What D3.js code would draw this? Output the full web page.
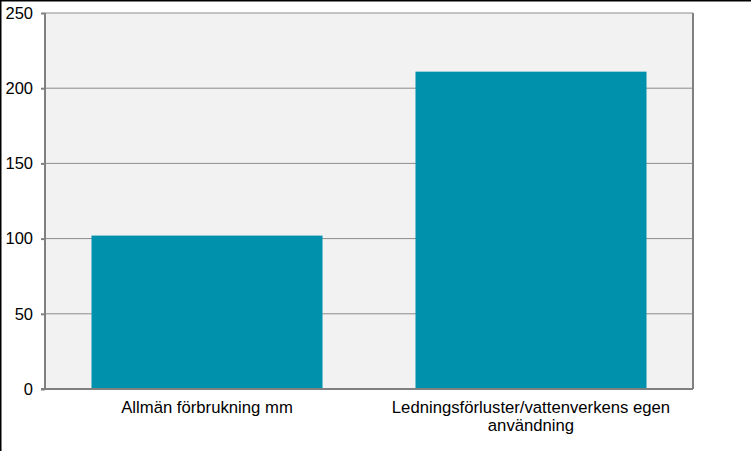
<!DOCTYPE html>
<html>
<head>
<meta charset="utf-8">
<script src="https://cdn.jsdelivr.net/npm/d3@7"></script>
<style>
  body { margin: 0; background: #fff; }
  text { font-family: "Liberation Sans", Arial, sans-serif; }
</style>
</head>
<body>
<script>
let w = 751;
let h = 451;
let categories = ["Allmän förbrukning mm", "Ledningsförluster/vattenverkens egen användning"];
let values = [102, 211];
let yTicks = [0, 50, 100, 150, 200, 250];

let margin = { top: 13, right: 58, bottom: 62, left: 45 };
let svg = d3.select("body").append("svg").attr("width", w).attr("height", h);

let x = d3
  .scaleBand()
  .domain(categories)
  .range([margin.left, w - margin.right])
  .paddingInner(0.287)
  .paddingOuter(0.1435);

let y = d3
  .scaleLinear()
  .domain([0, 250])
  .range([h - margin.bottom, margin.top]);

// plot background
svg
  .append("rect")
  .attr("x", margin.left)
  .attr("y", margin.top)
  .attr("width", w - margin.right - margin.left)
  .attr("height", h - margin.bottom - margin.top)
  .attr("fill", "#f2f2f2");

// gridlines
svg
  .selectAll("line.grid")
  .data(yTicks.filter(d => d > 0))
  .enter()
  .append("line")
  .attr("class", "grid")
  .attr("x1", margin.left)
  .attr("x2", w - margin.right)
  .attr("y1", d => y(d))
  .attr("y2", d => y(d))
  .attr("stroke", "#8c8c8c")
  .attr("stroke-width", 1);

// right border of plot area
svg
  .append("line")
  .attr("x1", w - margin.right)
  .attr("x2", w - margin.right)
  .attr("y1", margin.top)
  .attr("y2", h - margin.bottom)
  .attr("stroke", "#808080")
  .attr("stroke-width", 2);

// bars
svg
  .selectAll("rect.bar")
  .data(values)
  .enter()
  .append("rect")
  .attr("class", "bar")
  .attr("x", (d, i) => x(categories[i]))
  .attr("y", d => y(d))
  .attr("width", x.bandwidth())
  .attr("height", d => y(0) - y(d))
  .attr("fill", "#0092ad");

// y axis
let yAxis = svg
  .append("g")
  .attr("transform", `translate(${margin.left},0)`)
  .call(d3.axisLeft(y).tickValues(yTicks).tickSize(4).tickPadding(8));
yAxis.selectAll("line, path").attr("stroke", "#808080").attr("stroke-width", 2);
yAxis.select("path").attr("d", `M0,${y(0)}V${y(250)}`);
yAxis.selectAll("text").attr("font-size", 16.5).attr("fill", "#000");

// x axis
let xAxis = svg
  .append("g")
  .attr("transform", `translate(0,${y(0)})`)
  .call(d3.axisBottom(x).tickSize(0).tickPadding(12));
xAxis.select("path").attr("d", `M${margin.left - 4},0H${w - margin.right}`).attr("stroke", "#808080").attr("stroke-width", 2);
xAxis.selectAll("text").attr("font-size", 16.7).attr("fill", "#000").call(wrap, x.step());

// outer frame (top and left edge)
svg.append("line").attr("x1", 0).attr("x2", w).attr("y1", 0.5).attr("y2", 0.5).attr("stroke", "#000").attr("stroke-width", 2);
svg.append("line").attr("x1", 0.5).attr("x2", 0.5).attr("y1", 0).attr("y2", h).attr("stroke", "#000").attr("stroke-width", 2);

function wrap(texts, width) {
  texts.each(function () {
    let text = d3.select(this);
    let words = text.text().split(/\s+/);
    let yy = text.attr("y");
    let dy = parseFloat(text.attr("dy"));
    let line = [];
    let lineNo = 0;
    let tspan = text.text(null).append("tspan").attr("x", 0).attr("y", yy).attr("dy", dy + "em");
    for (let word of words) {
      line.push(word);
      tspan.text(line.join(" "));
      if (tspan.node().getComputedTextLength() > width - 20 && line.length > 1) {
        line.pop();
        tspan.text(line.join(" "));
        line = [word];
        tspan = text
          .append("tspan")
          .attr("x", 0)
          .attr("y", yy)
          .attr("dy", ++lineNo * 1.1 + dy + "em")
          .text(word);
      }
    }
  });
}
</script>
</body>
</html>
